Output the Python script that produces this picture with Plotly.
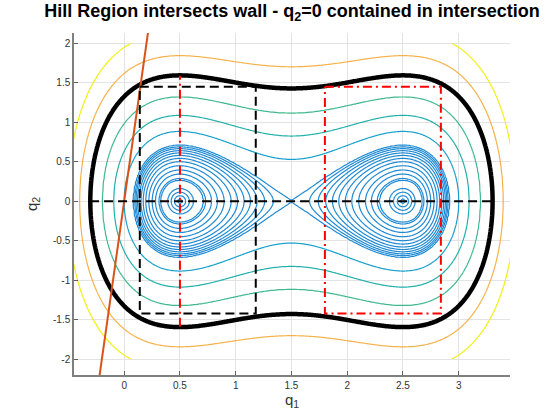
import numpy as np
import plotly.graph_objects as go

# ---- data ----
# Hamiltonian H = q2^2/2 + a*((q1-c)^2-1)^2  (double well, wells at q1=0.5 and 2.5)
well_a = 0.25
well_c = 1.5
grid_q1 = np.linspace(-0.6, 3.6, 421)
grid_q2 = np.linspace(-2.0, 2.0, 401)

inner_levels = [0.0005, 0.0024, 0.0065, 0.0126, 0.0356, 0.0408, 0.059, 0.078,
                0.101, 0.125, 0.147, 0.168, 0.187, 0.205, 0.222, 0.237, 0.2501]
outer_levels = [0.39, 0.59, 0.87, 1.70, 2.28]
outer_colors = ["#1aa0cc", "#22b0ab", "#3fb98d", "#f6b24a", "#f2f01c"]
inner_color = "#1f8ad4"
hill_level = 1.27

wall_q2 = [-2.5, 2.5]
wall_q1 = [-0.25, 0.25]
black_rect_q1 = [0.14, 1.18, 1.18, 0.14, 0.14]
black_rect_q2 = [1.45, 1.45, -1.42, -1.42, 1.45]
red_rect_q1 = [1.80, 2.84, 2.84, 1.80, 1.80]
red_rect_q2 = [1.45, 1.45, -1.42, -1.42, 1.45]
red_vline_q1 = [0.5, 0.5]
red_vline_q2 = [-1.59, 1.59]
zero_line_q1 = [-0.306, 3.306]
zero_line_q2 = [0.0, 0.0]

x_tickvals = [0, 0.5, 1, 1.5, 2, 2.5, 3]
x_ticktext = ["0", "0.5", "1", "1.5", "2", "2.5", "3"]
y_tickvals = [-2, -1.5, -1, -0.5, 0, 0.5, 1, 1.5, 2]
y_ticktext = ["-2", "-1.5", "-1", "-0.5", "0", "0.5", "1", "1.5", "2"]

title_text = "<b>Hill Region intersects wall - q<sub>2</sub>=0 contained in intersection</b>"

# ---- build ----
Q1, Q2 = np.meshgrid(grid_q1, grid_q2)
H = Q2 ** 2 / 2 + well_a * ((Q1 - well_c) ** 2 - 1) ** 2

levels = inner_levels + outer_levels
colors = [inner_color] * len(inner_levels) + outer_colors
N = len(levels)
ext_lv = [float(H.min()) - 1.0] + levels + [float(H.max()) + 1.0]
ext_ix = [-1.0] + list(range(N)) + [float(N)]
Z = np.interp(H, ext_lv, ext_ix).astype(np.float32)

cscale = [[i / (N - 1), c] for i, c in enumerate(colors)]

fig = go.Figure()
fig.add_trace(go.Contour(
    x=grid_q1, y=grid_q2, z=Z,
    contours=dict(start=0, end=N - 1, size=1, coloring="lines"),
    colorscale=cscale, zmin=0, zmax=N - 1, zauto=False,
    line=dict(width=1.2), showscale=False, hoverinfo="skip"))
fig.add_trace(go.Contour(
    x=grid_q1, y=grid_q2, z=H.astype(np.float32),
    contours=dict(start=hill_level, end=hill_level, size=1, coloring="lines"),
    colorscale=[[0, "black"], [1, "black"]],
    line=dict(width=4.5), showscale=False, hoverinfo="skip"))

fig.add_trace(go.Scatter(x=wall_q1, y=wall_q2, mode="lines",
                         line=dict(color="#d95319", width=2), hoverinfo="skip"))
fig.add_trace(go.Scatter(x=black_rect_q1, y=black_rect_q2, mode="lines",
                         line=dict(color="black", width=2, dash="9px,5px"), hoverinfo="skip"))
fig.add_trace(go.Scatter(x=zero_line_q1, y=zero_line_q2, mode="lines",
                         line=dict(color="black", width=2, dash="9px,5px"), hoverinfo="skip"))
fig.add_trace(go.Scatter(x=red_rect_q1, y=red_rect_q2, mode="lines",
                         line=dict(color="red", width=2, dash="9px,4px,2px,4px"), hoverinfo="skip"))
fig.add_trace(go.Scatter(x=red_vline_q1, y=red_vline_q2, mode="lines",
                         line=dict(color="red", width=2, dash="9px,4px,2px,4px"), hoverinfo="skip"))

axis_common = dict(showgrid=True, gridcolor="#e3e3e3", gridwidth=1, zeroline=False,
                   showline=True, linecolor="#7f7f7f", linewidth=1.5,
                   ticks="inside", ticklen=4, tickcolor="#5f5f5f", mirror=False,
                   tickfont=dict(family="Liberation Sans, Arial", size=10, color="#333333"))

fig.update_layout(
    width=560, height=420,
    margin=dict(l=74, r=50, t=33, b=45),
    paper_bgcolor="white", plot_bgcolor="white",
    showlegend=False,
    title=dict(text=title_text, x=0.5, xref="paper", xanchor="center",
               y=0.99, yref="container", yanchor="top",
               font=dict(family="Liberation Sans, Arial", size=18, color="black")),
    xaxis=dict(range=[-0.45, 3.46], tickvals=x_tickvals, ticktext=x_ticktext,
               title=dict(text="q<sub>1</sub>", standoff=0,
                          font=dict(family="Liberation Sans, Arial", size=15, color="#333333")),
               **axis_common),
    yaxis=dict(range=[-2.2, 2.13], tickvals=y_tickvals, ticktext=y_ticktext,
               title=dict(text="q<sub>2</sub>", standoff=12,
                          font=dict(family="Liberation Sans, Arial", size=15, color="#333333")),
               **axis_common),
)

fig.write_html("out.html")
